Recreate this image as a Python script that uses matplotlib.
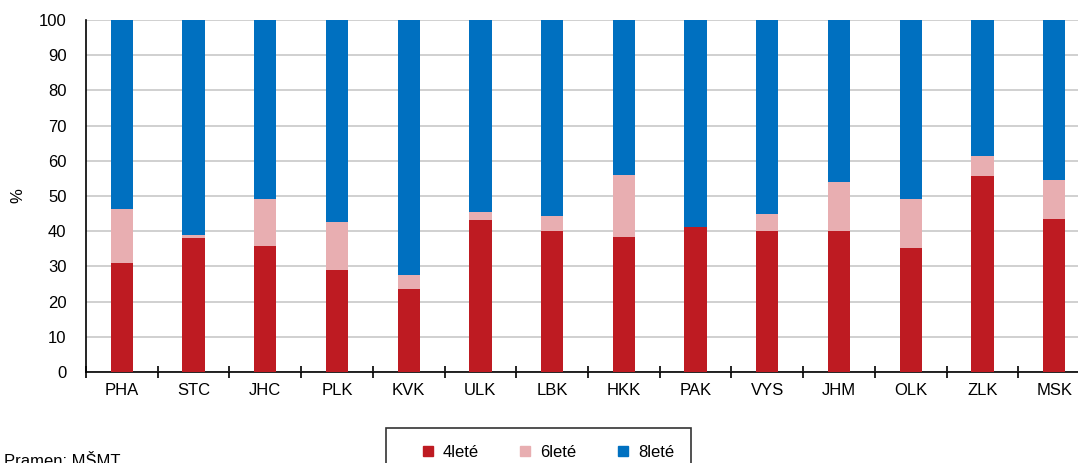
import matplotlib.pyplot as plt
import numpy as np

plt.rcParams['font.family'] = ['Liberation Sans', 'DejaVu Sans']

regions = ['PHA', 'STC', 'JHC', 'PLK', 'KVK', 'ULK', 'LBK',
           'HKK', 'PAK', 'VYS', 'JHM', 'OLK', 'ZLK', 'MSK']
ctyrlete = [31.0, 38.1, 35.8, 29.0, 23.6, 43.2, 40.1,
            38.4, 41.2, 40.1, 40.0, 35.2, 55.7, 43.4]
sestilete = [15.3, 0.8, 13.3, 13.6, 4.0, 2.3, 4.2,
             17.6, 0.0, 4.8, 14.0, 13.9, 5.7, 11.1]
osmilete = [100 - a - b for a, b in zip(ctyrlete, sestilete)]

series_names = ['4leté', '6leté', '8leté']
colors = ['#BE1B22', '#E8AEB1', '#0070C0']

fig = plt.figure(figsize=(10.78, 4.63), dpi=100)
ax = fig.add_axes([86 / 1078, 1 - 372 / 463, 1004 / 1078, 352 / 463])

x = np.arange(len(regions))
w = 0.31
bottom = np.zeros(len(regions))
for vals, name, c in zip([ctyrlete, sestilete, osmilete], series_names, colors):
    ax.bar(x, vals, w, bottom=bottom, color=c, label=name, zorder=3)
    bottom += np.array(vals)

ax.set_xlim(-0.5, len(regions) - 0.5)
ax.set_ylim(0, 100)
ax.set_yticks(range(0, 101, 10))
ax.yaxis.grid(True, color='#c8c8c8', linewidth=1.2, zorder=0)
ax.set_ylabel('%', fontsize=12)
ax.yaxis.set_label_coords(-0.06, 0.5)

ax.set_xticks(x)
ax.set_xticklabels(regions, fontsize=12)
ax.set_xticks(np.arange(-0.5, len(regions), 1), minor=True)
ax.tick_params(axis='x', which='major', length=0, pad=8)
ax.tick_params(axis='x', which='minor', length=8, direction='inout', width=1.2)
ax.tick_params(axis='y', length=0, labelsize=12, pad=14)

for s in ['top', 'right']:
    ax.spines[s].set_visible(False)
for s in ['left', 'bottom']:
    ax.spines[s].set_linewidth(1.2)

handles = [plt.Line2D([], [], marker='s', color=c, linestyle='none', markersize=7)
           for c in colors]
leg = fig.legend(handles, series_names, loc='upper left',
                 bbox_to_anchor=(386 / 1078, 1 - 428 / 463), ncol=3,
                 fancybox=False, edgecolor='black', fontsize=12,
                 handlelength=3.0, handletextpad=-0.6, columnspacing=1.3,
                 borderpad=1.0, borderaxespad=0)
leg.get_frame().set_linewidth(1.2)

fig.text(0.004, 1 - 454 / 463, 'Pramen: MŠMT', fontsize=12, va='top', ha='left')

fig.savefig('out.png', dpi=100)
